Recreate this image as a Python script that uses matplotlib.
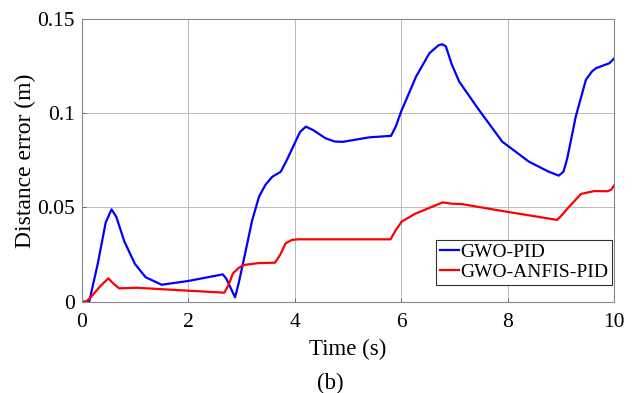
import numpy as np
import matplotlib.pyplot as plt

plt.rcParams["font.family"] = ["Liberation Serif", "DejaVu Serif"]

# GWO-PID distance error
t_pid = [0.0, 0.14, 0.3, 0.45, 0.56, 0.65, 0.8, 1.0, 1.2, 1.5, 2.0, 2.65, 2.72, 2.88,
         2.95, 3.08, 3.2, 3.33, 3.45, 3.58, 3.74, 3.85, 4.0, 4.1, 4.21, 4.35, 4.58,
         4.75, 4.9, 5.4, 5.81, 5.9, 6.0, 6.28, 6.53, 6.7, 6.77, 6.84, 6.95, 7.09,
         7.46, 7.9, 8.4, 8.77, 8.96, 9.05, 9.12, 9.28, 9.47, 9.58, 9.66, 9.91, 10.0]
e_pid = [0.0, 0.0, 0.02, 0.042, 0.049, 0.045, 0.032, 0.02, 0.013, 0.009, 0.011, 0.0145,
         0.012, 0.0023, 0.01, 0.027, 0.043, 0.0557, 0.062, 0.0663, 0.069, 0.075, 0.084,
         0.09, 0.0929, 0.091, 0.0867, 0.085, 0.0848, 0.0872, 0.088, 0.093, 0.1009,
         0.1194, 0.1318, 0.136, 0.1366, 0.1355, 0.126, 0.1168, 0.1018, 0.0849, 0.0743,
         0.069, 0.0669, 0.069, 0.076, 0.0982, 0.1177, 0.122, 0.1239, 0.1265, 0.129]

# GWO-ANFIS-PID distance error
t_anfis = [0.0, 0.08, 0.16, 0.34, 0.5, 0.58, 0.7, 1.03, 2.09, 2.68, 2.76, 2.84, 2.95,
           3.05, 3.33, 3.63, 3.73, 3.83, 3.95, 4.08, 5.8, 5.9, 6.01, 6.26, 6.78, 6.95,
           7.14, 7.97, 8.93, 9.02, 9.13, 9.38, 9.63, 9.88, 9.95, 10.0]
e_anfis = [0.0, 0.0, 0.002, 0.008, 0.0124, 0.01, 0.0071, 0.0074, 0.0057, 0.0048, 0.009,
           0.015, 0.018, 0.0195, 0.0205, 0.0207, 0.025, 0.031, 0.0328, 0.0331, 0.0331,
           0.038, 0.0425, 0.0466, 0.0527, 0.052, 0.0518, 0.0478, 0.0434, 0.046, 0.0496,
           0.0572, 0.0587, 0.0586, 0.0595, 0.0617]

x_ticks = [0, 2, 4, 6, 8, 10]
y_ticks = [0, 0.05, 0.1, 0.15]
y_tick_labels = ["0", "0.05", "0.1", "0.15"]

fig = plt.figure(figsize=(6.41, 3.93), dpi=100)
ax = fig.add_axes([0.1275, 0.2323, 0.8305, 0.7194])

ax.plot(t_pid, e_pid, color="#0000ff", lw=1.6, label="GWO-PID")
ax.plot(t_anfis, e_anfis, color="#ff0000", lw=1.6, label="GWO-ANFIS-PID")

ax.set_xlim(0, 10)
ax.set_ylim(0, 0.15)
ax.set_xticks(x_ticks)
ax.set_yticks(y_ticks, y_tick_labels)
ax.tick_params(direction="in", length=3, width=0.6, color="#555555", labelsize=15.5)
ax.tick_params(axis="x", pad=8)
ax.tick_params(axis="y", pad=5)
ax.grid(True, color="#bbbbbb", lw=0.7)
for s in ax.spines.values():
    s.set_color("#888888")
    s.set_linewidth(0.8)

ax.set_xlabel("Time (s)", fontsize=16.5, labelpad=5)
ax.set_ylabel("Distance error (m)", fontsize=17, labelpad=1)

leg = ax.legend(loc="lower right", bbox_to_anchor=(0.996, 0.06), fontsize=14,
                handlelength=1.0, handletextpad=0.05, borderpad=0.2,
                labelspacing=0.1, fancybox=False, framealpha=1, borderaxespad=0.0)
leg.get_frame().set_edgecolor("#333333")
leg.get_frame().set_linewidth(0.8)

fig.text(0.515, 0.0254, "(b)", fontsize=16.5, ha="center", va="center")

fig.savefig("out.png", dpi=100)
